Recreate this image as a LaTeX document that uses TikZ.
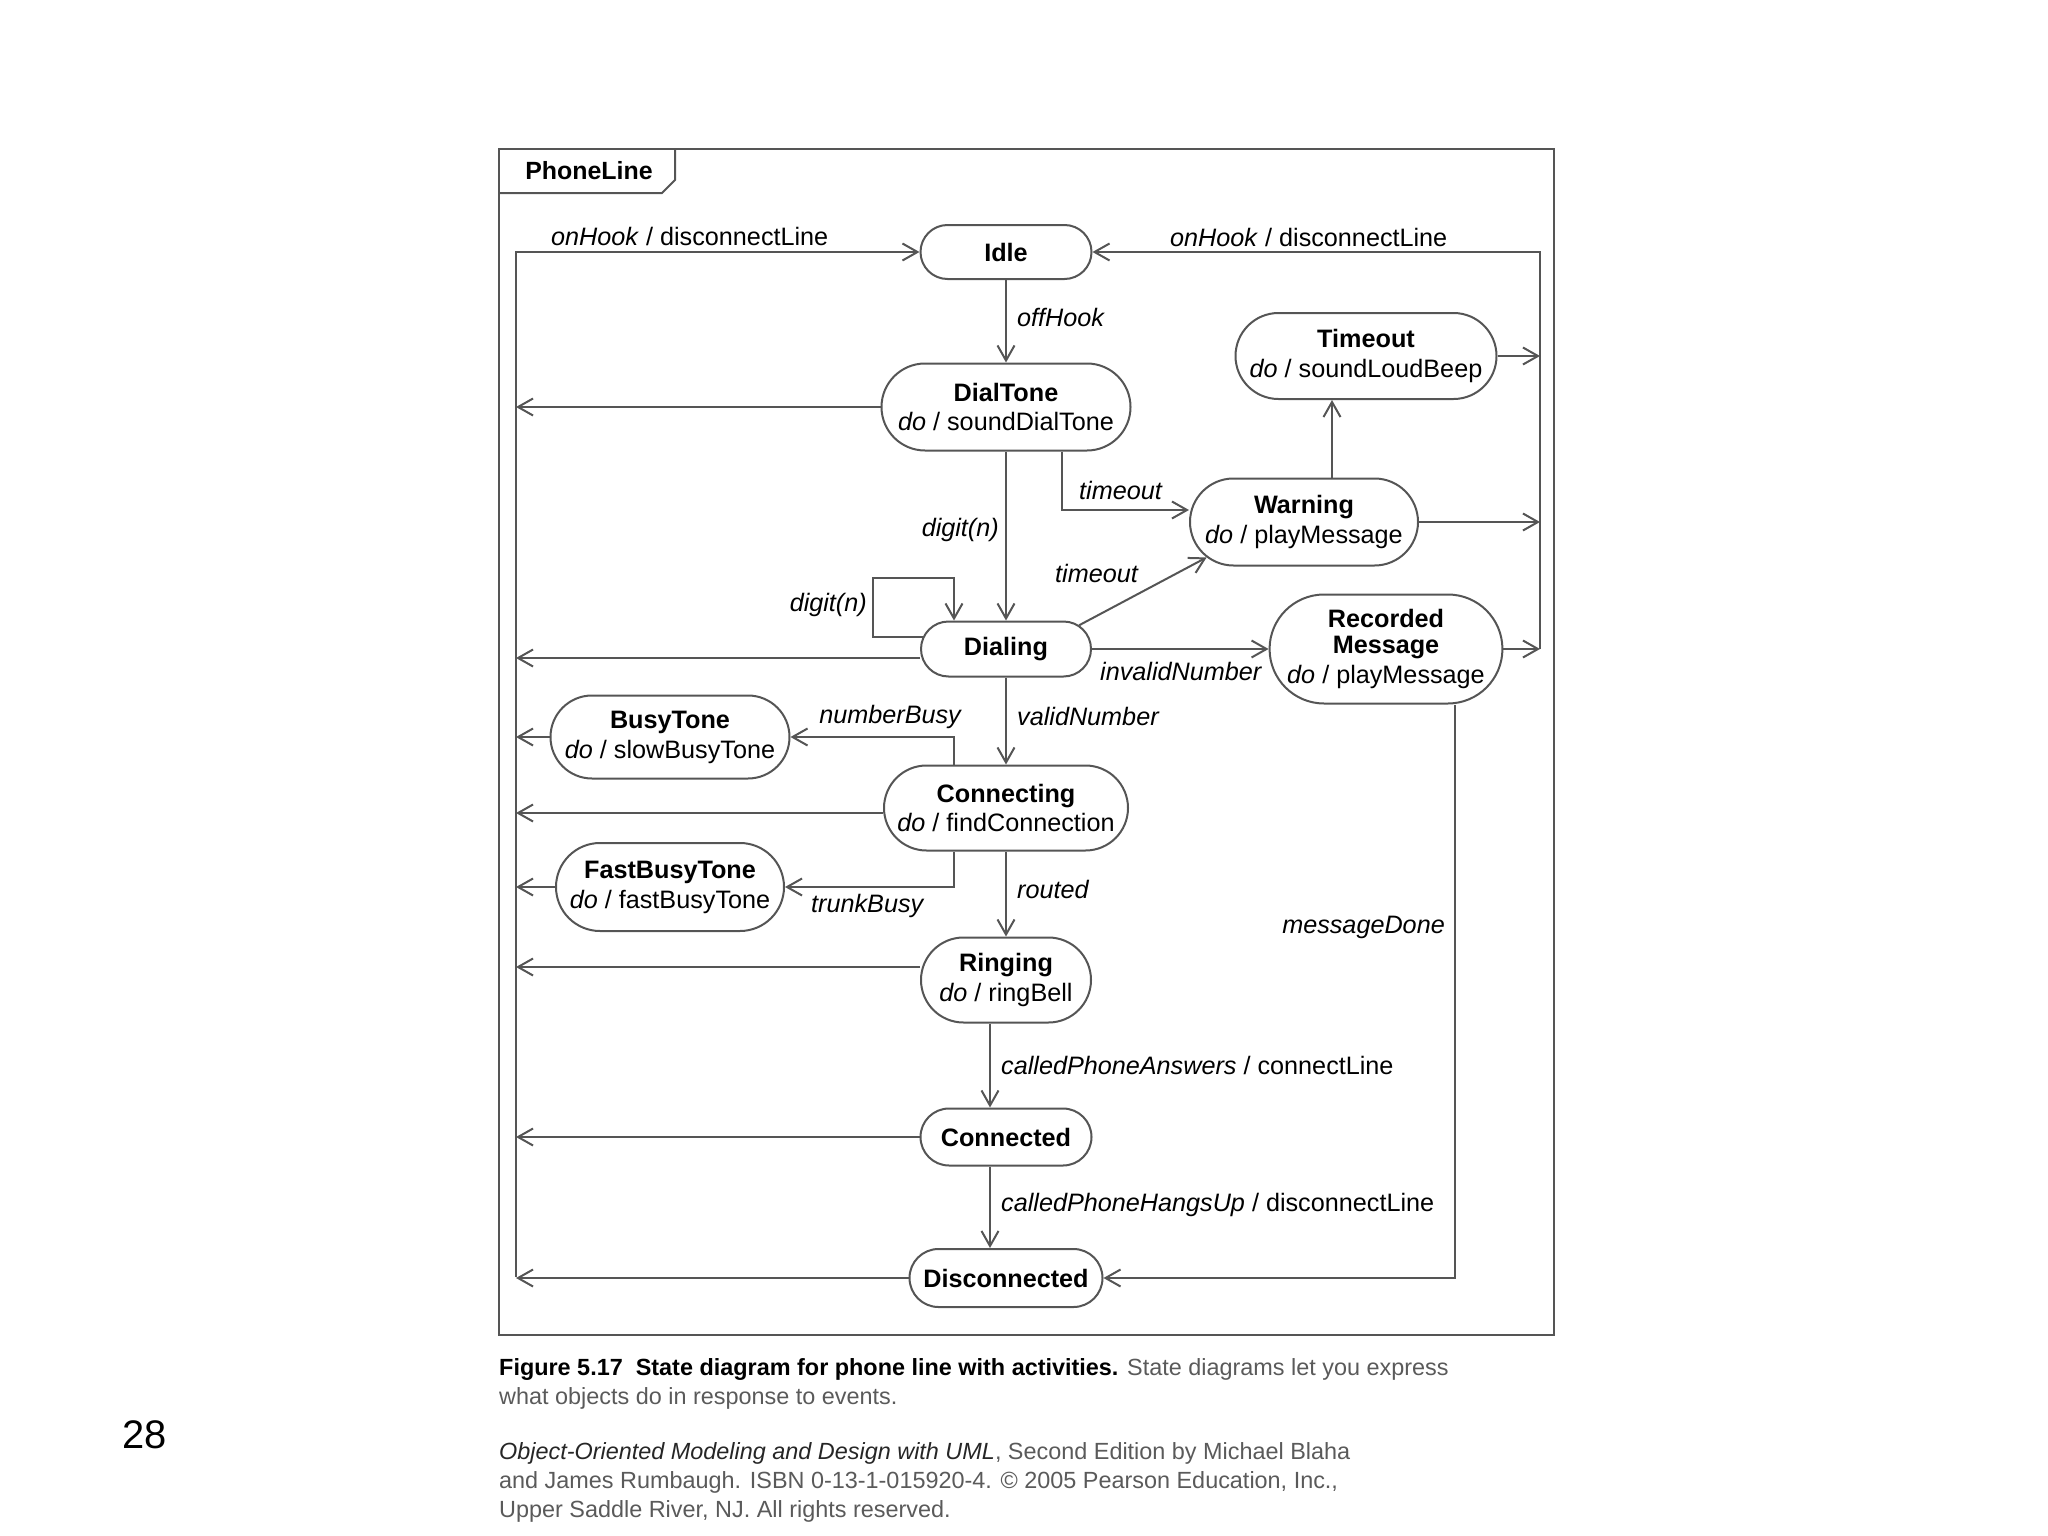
\documentclass[tikz,border=0pt]{standalone}
\usepackage{fontspec}
\setmainfont{Liberation Sans}
\usetikzlibrary{arrows.meta,shapes.misc,calc}
\definecolor{lc}{RGB}{85,85,85}
\definecolor{capgray}{RGB}{90,90,90}
\begin{document}
\begin{tikzpicture}[x=1bp,y=-1bp,
  every node/.style={font=\fontsize{25.3}{30}\selectfont, inner sep=0pt, text=black},
  st/.style={draw=lc, line width=2bp, rounded rectangle, align=center},
  arr/.style={draw=lc, line width=2bp, -{Straight Barb[length=15bp,width=17bp,line width=2bp]}},
  ln/.style={draw=lc, line width=2bp},
  lbl/.style={font=\fontsize{25.3}{30}\selectfont\itshape},
  capt/.style={font=\fontsize{23.5}{29}\selectfont, anchor=west, text=capgray}]
\useasboundingbox (0,0) rectangle (2048,1536);
% frame
\draw[draw=lc, line width=2.5bp] (499,149) rectangle (1554,1335);
\draw[ln] (499,193) -- (662,193) -- (675,180) -- (675,149);
\node[font=\fontsize{25}{30}\selectfont\bfseries] (title) at (589,171) {PhoneLine};
% states
\node[st, minimum width=171bp, minimum height=54bp] (idle) at (1006,252) {\textbf{Idle}};
\node[st, minimum width=249bp, minimum height=87bp] (dialtone) at (1006,407) {\textbf{DialTone}\\\textit{do} / soundDialTone};
\node[st, minimum width=170bp, minimum height=55bp] (dialing) at (1006,649) {\textbf{Dialing}};
\node[st, minimum width=244bp, minimum height=85bp] (connecting) at (1006,808) {\textbf{Connecting}\\\textit{do} / findConnection};
\node[st, minimum width=170bp, minimum height=85bp] (ringing) at (1006,980) {\textbf{Ringing}\\\textit{do} / ringBell};
\node[st, minimum width=171bp, minimum height=57bp] (connected) at (1006,1137) {\textbf{Connected}};
\node[st, minimum width=193bp, minimum height=58bp] (disconnected) at (1006,1278) {\textbf{Disconnected}};
\node[st, minimum width=261bp, minimum height=86bp] (timeout) at (1366,356) {\textbf{Timeout}\\\textit{do} / soundLoudBeep};
\node[st, minimum width=228bp, minimum height=87bp] (warning) at (1304,522) {\textbf{Warning}\\\textit{do} / playMessage};
\node[st, minimum width=229bp, minimum height=109bp, font=\fontsize{25.3}{26}\selectfont] (recmsg) at (1386,649) {\textbf{Recorded}\\\textbf{Message}\\[5bp]\textit{do} / playMessage};
\node[st, minimum width=239bp, minimum height=83bp] (busytone) at (670,737) {\textbf{BusyTone}\\\textit{do} / slowBusyTone};
\node[st, minimum width=228bp, minimum height=88bp] (fastbusy) at (670,887) {\textbf{FastBusyTone}\\\textit{do} / fastBusyTone};
% left bus
\coordinate (lbT) at (516,252);
\coordinate (lbB) at (516,1277);
\draw[arr] (lbB) -- (lbT) -- (idle.west);
\path ([yshift=-9bp]dialing.west) coordinate (dlw);
\path ([yshift=-5bp]connecting.west) coordinate (clw);
\path ([yshift=13bp]ringing.west) coordinate (rlw);
\draw[arr] (dialtone.west) -- (dialtone.west -| lbT);
\draw[arr] (dlw) -- (dlw -| lbT);
\draw[arr] (busytone.west) -- (busytone.west -| lbT);
\draw[arr] (clw) -- (clw -| lbT);
\draw[arr] (fastbusy.west) -- (fastbusy.west -| lbT);
\draw[arr] (rlw) -- (rlw -| lbT);
\draw[arr] (connected.west) -- (connected.west -| lbT);
\draw[arr] (disconnected.west) -- (disconnected.west -| lbT);
% right bus
\coordinate (rbT) at (1540,252);
\coordinate (rbB) at (1540,649);
\draw[arr] (rbB) -- (rbT) -- (idle.east);
\draw[arr] (timeout.east) -- (timeout.east -| rbT);
\draw[arr] (warning.east) -- (warning.east -| rbT);
\draw[arr] (recmsg.east) -- (recmsg.east -| rbT);
% transitions
\draw[arr] (idle.south) -- (dialtone.north);
\draw[arr] (dialtone.south) -- (dialing.north);
\path ([yshift=12bp]warning.west) coordinate (ww);
\draw[arr] ([xshift=56bp]dialtone.south) |- (ww);
\draw[arr] (dialing.18) -- (warning.200);
\coordinate (loopc) at (873,578);
\draw[arr] (dialing.172) -| (loopc) -| ([xshift=-52bp]dialing.north);
\draw[arr] (dialing.east) -- (recmsg.west);
\draw[arr] ([xshift=28bp]warning.north) -- ([xshift=28bp]warning.north |- timeout.south);
\draw[arr] (dialing.south) -- (connecting.north);
\draw[arr] ([xshift=-52bp]connecting.north) |- (busytone.east);
\draw[arr] ([xshift=-52bp]connecting.south) |- (fastbusy.east);
\draw[arr] (connecting.south) -- (ringing.north);
\draw[arr] ([xshift=-16bp]ringing.south) -- ([xshift=-16bp]connected.north);
\draw[arr] ([xshift=-16bp]connected.south) -- ([xshift=-16bp]disconnected.north);
\draw[arr] ([xshift=69bp]recmsg.south) |- (disconnected.east);
% labels
\node[anchor=west] (l1) at (551,236) {\textit{onHook} / disconnectLine};
\node[anchor=west] (l2) at (1170,237) {\textit{onHook} / disconnectLine};
\node[lbl, anchor=west] (l3) at (1017,317) {offHook};
\node[lbl, anchor=east] (l4) at (999,530) {digit(n)};
\node[lbl, anchor=west] (l5) at (1079,490) {timeout};
\node[lbl, anchor=east] (l6) at (1138,573) {timeout};
\node[lbl, anchor=east] (l7) at (867,605) {digit(n)};
\node[lbl, anchor=west] (l8) at (1100,671) {invalidNumber};
\node[lbl, anchor=west] (l9) at (1017,716) {validNumber};
\node[lbl, anchor=east] (l10) at (961,717) {numberBusy};
\node[lbl, anchor=west] (l11) at (811,906) {trunkBusy};
\node[lbl, anchor=west] (l12) at (1017,889) {routed};
\node[lbl, anchor=east] (l13) at (1445,927) {messageDone};
\node[anchor=west] (l14) at (1001,1065) {\textit{calledPhoneAnswers} / connectLine};
\node[anchor=west] (l15) at (1001,1205) {\textit{calledPhoneHangsUp} / disconnectLine};
% caption
\node[capt] (c1) at (499,1369) {\textcolor{black}{\textbf{Figure 5.17\ \ State diagram for phone line with activities.}} State diagrams let you express};
\node[capt] (c2) at (499,1398) {what objects do in response to events.};
\node[capt] (c3) at (499,1453) {\textcolor{black!85}{\textit{Object-Oriented Modeling and Design with UML}}, Second Edition by Michael Blaha};
\node[capt] (c4) at (499,1482) {and James Rumbaugh. ISBN 0-13-1-015920-4. \textcopyright{} 2005 Pearson Education, Inc.,};
\node[capt] (c5) at (499,1511) {Upper Saddle River, NJ. All rights reserved.};
\node[font=\fontsize{40}{46}\selectfont] (pg) at (145,1435) {28};
\end{tikzpicture}
\end{document}
